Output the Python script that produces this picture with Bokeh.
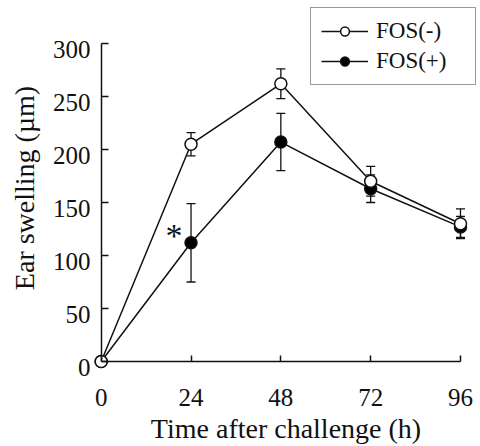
from bokeh.plotting import figure
from bokeh.models import (Range1d, LinearAxis, FixedTicker, Whisker, ColumnDataSource,
                          Legend, LegendItem, Label, TeeHead, CustomJSTickFormatter)
from bokeh.embed import file_html
from bokeh.resources import INLINE

# ---- data ----
time_h = [0, 24, 48, 72, 96]
fos_minus = [0, 205, 262, 170, 130]
fos_minus_err = [0, 11, 14, 14, 14]
fos_plus = [0, 112, 207, 163, 127]
fos_plus_err = [0, 37, 27, 13, 10]
x_ticks = [0, 24, 48, 72, 96]
y_ticks = [0, 50, 100, 150, 200, 250, 300]
labels = ["FOS(-)", "FOS(+)"]

FONT = "Liberation Serif"
INK = "#111111"
Y_LABEL_DROP = 5.66  # y tick labels sit slightly below their ticks (data units)

p = figure(frame_width=385, frame_height=365,
           x_range=Range1d(-2.057, 100.81), y_range=Range1d(-8.49, 335.85),
           output_backend="svg", toolbar_location=None,
           x_axis_location=None, y_axis_location=None,
           min_border_left=93, min_border_right=2, min_border_top=5, min_border_bottom=76)
p.grid.visible = False
p.outline_line_color = None
p.background_fill_color = "white"

# axis lines with inward ticks, fixed at 0 (ticks given as unlabeled minor ticks)
xline = LinearAxis(fixed_location=0, bounds=(0, 96),
                   ticker=FixedTicker(ticks=[], minor_ticks=x_ticks),
                   minor_tick_in=6, minor_tick_out=0, major_tick_in=0, major_tick_out=0,
                   major_label_standoff=0,
                   axis_line_width=1.5, axis_line_color=INK, minor_tick_line_color=INK,
                   minor_tick_line_width=1.5)
yline = LinearAxis(fixed_location=0, bounds=(0, 300),
                   ticker=FixedTicker(ticks=[], minor_ticks=y_ticks),
                   minor_tick_in=7, minor_tick_out=0, major_tick_in=0, major_tick_out=0,
                   major_label_standoff=0,
                   axis_line_width=1.5, axis_line_color=INK, minor_tick_line_color=INK,
                   minor_tick_line_width=1.5)
p.add_layout(xline, "below")
p.add_layout(yline, "left")

# label axes at frame edges
xlab = LinearAxis(ticker=FixedTicker(ticks=x_ticks), axis_label="Time after challenge (h)",
                  axis_line_color=None, major_tick_line_color=None, minor_tick_line_color=None,
                  major_tick_in=0, major_tick_out=0, major_label_standoff=18, axis_label_standoff=4,
                  major_label_text_font=FONT, major_label_text_font_size="25px",
                  major_label_text_color=INK,
                  axis_label_text_font=FONT, axis_label_text_font_size="28px",
                  axis_label_text_font_style="normal", axis_label_text_color=INK)
ylab = LinearAxis(ticker=FixedTicker(ticks=[v - Y_LABEL_DROP for v in y_ticks]),
                  formatter=CustomJSTickFormatter(args=dict(d=Y_LABEL_DROP),
                                                  code="return String(Math.round(tick + d));"),
                  axis_label="Ear swelling (µm)",
                  axis_line_color=None, major_tick_line_color=None, minor_tick_line_color=None,
                  major_tick_in=0, major_tick_out=0, major_label_standoff=3, axis_label_standoff=10,
                  major_label_text_font=FONT, major_label_text_font_size="25px",
                  major_label_text_color=INK,
                  axis_label_text_font=FONT, axis_label_text_font_size="28px",
                  axis_label_text_font_style="normal", axis_label_text_color=INK)
p.add_layout(xlab, "below")
p.add_layout(ylab, "left")

# error bars
def err_source(vals, errs):
    xs, up, lo = [], [], []
    for t, v, e in zip(time_h, vals, errs):
        if e > 0:
            xs.append(t); up.append(v + e); lo.append(v - e)
    return ColumnDataSource(dict(x=xs, upper=up, lower=lo))

for vals, errs in [(fos_plus, fos_plus_err), (fos_minus, fos_minus_err)]:
    w = Whisker(source=err_source(vals, errs), base="x", upper="upper", lower="lower",
                level="underlay", line_color=INK, line_width=1.3,
                upper_head=TeeHead(size=9, line_color=INK, line_width=1.3),
                lower_head=TeeHead(size=9, line_color=INK, line_width=1.3))
    p.add_layout(w)

l_minus = p.line(time_h, fos_minus, line_color=INK, line_width=1.5)
l_plus = p.line(time_h, fos_plus, line_color=INK, line_width=1.5)
s_plus = p.scatter(time_h, fos_plus, size=12, marker="circle", fill_color="black",
                   line_color=INK, line_width=1.5)
s_minus = p.scatter(time_h, fos_minus, size=12, marker="circle", fill_color="white",
                    line_color=INK, line_width=1.5)

legend = Legend(items=[LegendItem(label=labels[0], renderers=[l_minus, s_minus]),
                       LegendItem(label=labels[1], renderers=[l_plus, s_plus])],
                location="top_right", margin=2, padding=10, spacing=4,
                glyph_width=47, glyph_height=22, label_width=89,
                label_standoff=8, label_text_font=FONT, label_text_font_size="23px",
                label_text_color=INK, label_text_baseline="middle",
                border_line_color="#333333", border_line_width=1.5,
                background_fill_color="white", background_fill_alpha=1.0)
p.add_layout(legend)

star = Label(x=time_h[1], y=fos_plus[1], text="*", x_offset=-17, y_offset=7,
             text_align="center", text_baseline="alphabetic",
             text_font=FONT, text_font_size="34px", text_color=INK)
p.add_layout(star)

open("out.html", "w").write(file_html(p, INLINE))
